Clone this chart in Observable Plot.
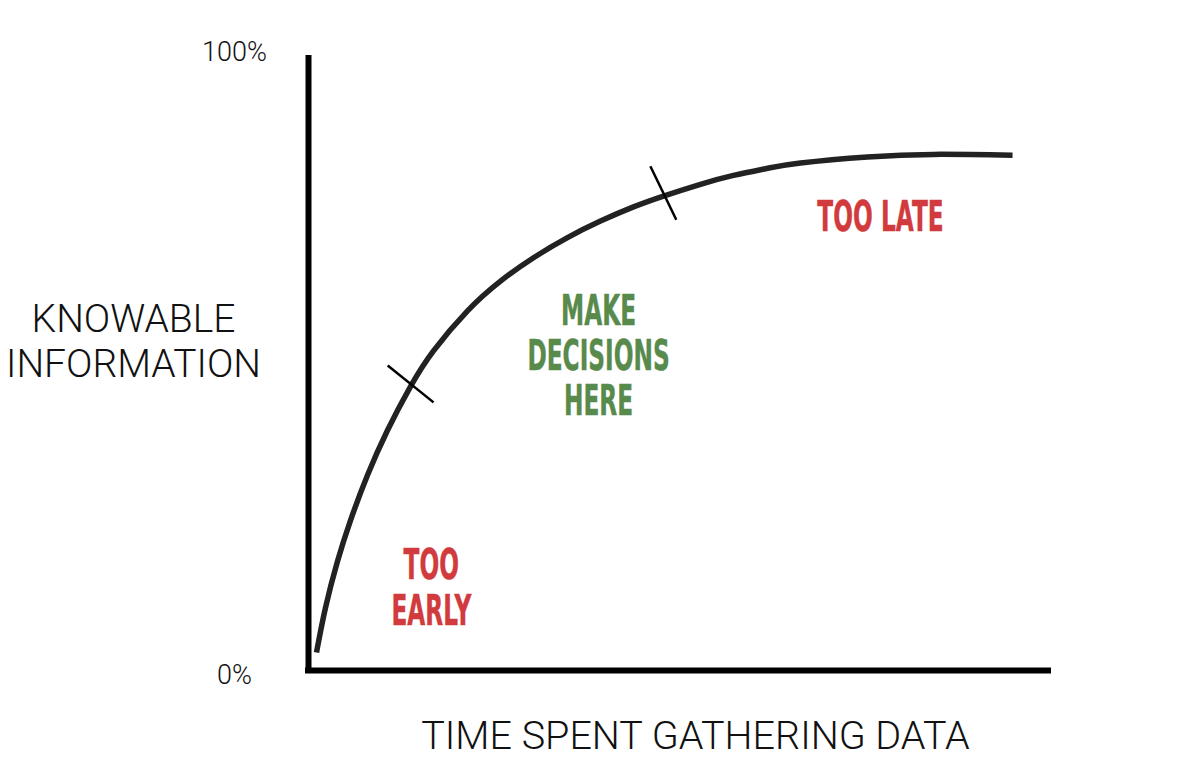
<!DOCTYPE html>
<html><head><meta charset="utf-8">
<script src="https://cdn.jsdelivr.net/npm/d3@7"></script>
<script src="https://cdn.jsdelivr.net/npm/@observablehq/plot@0.6"></script>
<style>body{margin:0;background:#fff}</style>
</head><body><div id="chart"></div>
<script>
// Curve: time spent gathering data (% of axis) vs knowable information (%)
const timeSpent = [1.08, 2.30, 3.92, 5.68, 7.97, 10.68, 13.78, 16.89, 21.49, 25.95, 30.41, 35.00, 39.46, 43.92, 47.97, 52.97, 57.43, 62.03, 66.49, 75.54, 84.46, 95.14];
const knowable  = [2.93, 10.24, 17.76, 24.42, 31.74, 39.06, 46.16, 51.96, 58.49, 63.32, 67.12, 70.39, 73.07, 75.38, 77.14, 79.06, 80.50, 81.66, 82.52, 83.50, 83.92, 83.79];

// Cross marks on the curve (start / end of each short stroke)
const markX1 = [10.7, 46.2];
const markY1 = [49.6, 82.0];
const markX2 = [16.9, 49.7];
const markY2 = [43.6, 73.3];

// Zone labels
const zoneText  = ["TOO\nEARLY", "MAKE\nDECISIONS\nHERE", "TOO LATE"];
const zoneX     = [16.6, 39.2, 77.3];
const zoneY     = [13.5, 51.2, 73.8];
const zoneColor = ["#d13b3d", "#578a4b", "#d13b3d"];

// Axis tick labels and titles
const yTickValues = [0, 100];
const yTickLabels = ["0%", "100%"];
const yTitle = "KNOWABLE\nINFORMATION";
const xTitle = "TIME SPENT GATHERING DATA";

const curve = timeSpent.map((t, i) => ({t, k: knowable[i]}));
const marks2 = markX1.map((x, i) => ({x1: x, y1: markY1[i], x2: markX2[i], y2: markY2[i]}));
const zones = zoneText.map((s, i) => ({s, x: zoneX[i], y: zoneY[i], c: zoneColor[i]}));
const fmt = d => yTickLabels[yTickValues.indexOf(d)];
const lightFont = "Roboto, 'Liberation Sans', Arial, sans-serif";

const chart = Plot.plot({
  width: 1200,
  height: 782,
  marginLeft: 308,
  marginRight: 152,
  marginTop: 55,
  marginBottom: 112,
  x: {domain: [0, 100], axis: null},
  y: {domain: [0, 100]},
  style: {background: "white", fontFamily: lightFont, overflow: "visible"},
  marks: [
    Plot.axisY([yTickValues[1]], {tickSize: 0, tickPadding: 74, textAnchor: "middle", fontSize: 27, fontWeight: 300, fontFamily: lightFont, tickFormat: fmt, dy: -3, label: null, fill: "#111"}),
    Plot.axisY([yTickValues[0]], {tickSize: 0, tickPadding: 74, textAnchor: "middle", fontSize: 27, fontWeight: 300, fontFamily: lightFont, tickFormat: fmt, dy: 5, label: null, fill: "#111"}),
    Plot.ruleX([0], {y1: 0, y2: 100, stroke: "black", strokeWidth: 6}),
    Plot.ruleY([0], {x1: 0, x2: 100, stroke: "black", strokeWidth: 6, strokeLinecap: "square"}),
    Plot.line(curve, {x: "t", y: "k", curve: "natural", stroke: "#222", strokeWidth: 5.5, strokeLinecap: "butt"}),
    Plot.link(marks2, {x1: "x1", y1: "y1", x2: "x2", y2: "y2", stroke: "black", strokeWidth: 2.5}),
    Plot.text([yTitle], {frameAnchor: "left", dx: -175, dy: -(670 - 340 - 307.5), text: d => d, fontSize: 39, fontWeight: 300, fontFamily: lightFont, lineHeight: 1.154, textAnchor: "middle", fill: "#111"}),
    Plot.text([xTitle], {x: 52.3, frameAnchor: "bottom", dy: 78, text: d => d, fontSize: 39.5, fontWeight: 300, fontFamily: lightFont, textAnchor: "middle", fill: "#111"}),
    Plot.text(zones, {x: "x", y: "y", text: "s", fill: "c", stroke: "c", strokeWidth: 0.5, strokeLinejoin: "round", fontSize: 43.5, fontWeight: "bold", fontFamily: "'DejaVu Sans'", lineHeight: 1.04, textAnchor: "middle"})
  ]
});

// Condense the zone labels horizontally (the original uses a condensed face)
chart.querySelectorAll('g[font-family*="DejaVu"] text').forEach(el => {
  const t = el.getAttribute("transform") || "";
  el.setAttribute("transform", t + " scale(0.535,1)");
});

document.getElementById("chart").appendChild(chart);
</script>
</body></html>
